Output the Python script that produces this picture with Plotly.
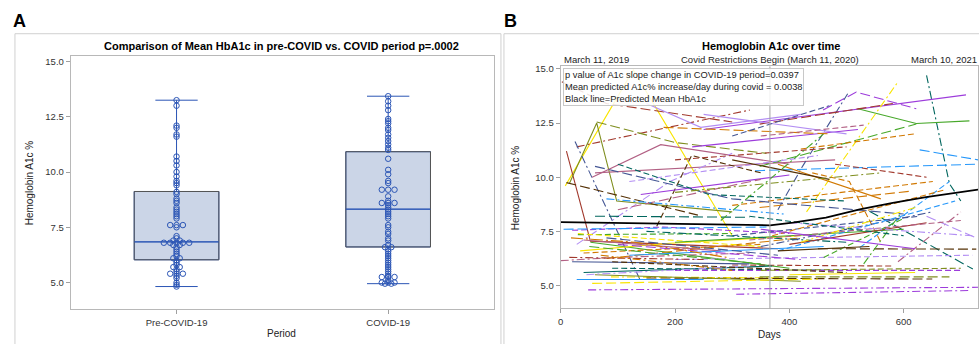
import plotly.graph_objects as go
from collections import Counter

# ---------------- Panel A data ----------------
period_labels = ["Pre-COVID-19", "COVID-19"]
pre_covid_a1c = [13.25, 13.0, 12.1, 12.0, 11.7, 11.6, 10.7, 10.5, 10.3, 10.0, 9.8, 9.6, 9.5, 9.4,
                 9.1, 9.0, 8.8, 8.7, 8.6, 8.4, 8.3, 8.2, 8.1, 8.0, 7.9, 7.6, 7.6, 7.6, 7.5, 7.1,
                 7.0, 6.9, 6.9, 6.8, 6.8, 6.8, 6.8, 6.8, 6.7, 6.7, 6.6, 6.5, 6.4, 6.3, 6.2, 6.1,
                 6.1, 6.0, 5.9, 5.8, 5.7, 5.7, 5.6, 5.5, 5.4, 5.4, 5.4, 5.3, 5.2, 5.0, 4.9, 4.82]
covid_a1c = [13.43, 13.2, 13.0, 12.8, 12.4, 12.3, 12.2, 12.0, 11.9, 11.7, 11.55, 11.4, 11.25,
             11.1, 11.0, 10.6, 10.1, 9.9, 9.6, 9.5, 9.2, 9.2, 9.2, 8.9, 8.7, 8.6, 8.6, 8.6, 8.5,
             8.4, 8.3, 8.2, 8.1, 8.0, 7.9, 7.6, 7.5, 7.3, 7.2, 7.0, 6.9, 6.7, 6.6, 6.6, 6.5, 6.4,
             6.3, 6.2, 6.1, 6.0, 5.9, 5.8, 5.7, 5.6, 5.5, 5.4, 5.3, 5.25, 5.25, 5.25, 5.1, 5.0,
             5.0, 5.0, 4.95, 4.95]
box_q1 = [6.03, 6.61]
box_median = [6.84, 8.32]
box_q3 = [9.12, 10.92]
box_low = [4.82, 4.95]
box_high = [13.25, 13.43]

# ---------------- Panel B data ----------------
date_days = [0, 366, 730]
date_labels = ["March 11, 2019", "Covid Restrictions Begin (March 11, 2020)", "March 10, 2021"]
predicted_days = [0, 100, 200, 300, 366, 406, 464, 523, 581, 639, 730]
predicted_a1c = [7.93, 7.89, 7.85, 7.81, 7.78, 7.9, 8.13, 8.51, 8.82, 9.08, 9.43]

patient_days = [
    [8, 127, 300], [2, 80, 300], [28, 331], [10, 52, 380], [52, 400],
    [63, 200, 360], [15, 63, 98, 300], [25, 140], [55, 175, 400], [60, 480],
    [230, 520], [150, 245, 420], [640, 680, 700], [250, 709], [520, 622, 715],
    [348, 622], [459, 517, 622], [430, 590], [380, 423, 502], [628, 730],
    [340, 730], [348, 581], [540, 721], [450, 727], [48, 730],
    [307, 715], [28, 250], [20, 180, 400], [28, 191, 300], [34, 191, 420],
    [0, 100, 330], [10, 240], [168, 229, 350], [60, 330], [5, 360],
    [30, 300], [40, 350], [80, 420], [88, 400], [90, 500],
    [150, 650], [300, 651], [348, 610], [300, 628], [523, 680],
    [590, 700], [640, 727], [530, 594], [348, 680], [200, 700],
    [300, 580], [200, 720], [440, 505, 560], [140, 400], [120, 450],
    [100, 260, 500], [200, 500], [60, 300, 600], [380, 560], [300, 470],
    [280, 460], [100, 350], [80, 390], [200, 560], [180, 470],
    [250, 500], [300, 470], [350, 530], [20, 330], [15, 250],
    [40, 370], [60, 420], [50, 350], [70, 300], [45, 330],
    [55, 450], [90, 500], [100, 420], [40, 280], [120, 460],
    [30, 350], [80, 380], [200, 600], [150, 500], [350, 650],
    [380, 690], [400, 640], [330, 700], [370, 670], [420, 620],
    [460, 600], [350, 620], [400, 720], [330, 600], [380, 540],
    [350, 700], [400, 620], [420, 620], [480, 640], [18, 130, 290],
]
patient_a1c = [
    [9.6, 14.95, 7.3], [14.4, 13.4, 12.55], [11.4, 13.1], [11.2, 7.05, 6.7], [7.0, 5.8],
    [12.55, 11.6, 11.1], [9.7, 12.5, 8.9, 8.4], [11.65, 5.2], [10.0, 11.5, 10.6], [10.2, 10.8],
    [11.4, 12.2], [13.4, 12.3, 12.9], [14.7, 9.7, 8.9], [12.2, 13.8], [13.16, 12.48, 12.6],
    [10.5, 12.45], [13.1, 13.93, 13.16], [8.4, 14.4], [8.5, 10.5, 13.85], [11.26, 10.8],
    [10.3, 10.6], [12.45, 13.4], [8.43, 5.76], [6.7, 6.68], [4.8, 4.92],
    [4.6, 4.77], [5.28, 5.28], [7.55, 7.7, 7.4], [6.9, 9.8, 11.1], [6.6, 6.95, 7.3],
    [6.15, 6.3, 6.5], [9.75, 8.25], [7.74, 11.0, 10.2], [8.2, 8.15], [7.6, 7.7],
    [7.35, 7.4], [6.5, 6.9], [6.25, 7.2], [5.4, 5.35], [5.8, 5.7],
    [5.35, 5.3], [8.7, 9.8], [8.6, 9.35], [7.3, 8.2], [6.75, 9.8],
    [6.1, 8.4], [8.2, 7.2], [6.0, 8.3], [5.4, 5.4], [5.7, 5.7],
    [5.95, 5.9], [6.2, 6.4], [10.2, 9.8, 7.0], [9.2, 10.1], [9.8, 11.0],
    [10.6, 9.2, 8.9], [10.8, 11.4], [10.5, 9.0, 8.3], [10.6, 9.0], [10.8, 9.9],
    [8.0, 12.0], [8.5, 9.9], [9.0, 8.3], [9.3, 10.2], [12.3, 12.0],
    [12.9, 12.0], [11.9, 13.3], [11.9, 12.4], [6.1, 6.0], [6.3, 6.2],
    [5.6, 5.9], [5.5, 5.2], [6.8, 6.0], [6.4, 5.7], [5.5, 5.9],
    [5.1, 5.3], [6.1, 5.6], [6.9, 6.2], [7.1, 6.6], [6.4, 6.8],
    [7.4, 6.8], [7.2, 6.4], [7.0, 7.6], [7.5, 7.0], [6.8, 8.4],
    [6.6, 8.9], [6.9, 7.9], [7.1, 8.0], [7.3, 9.4], [7.0, 8.6],
    [6.3, 8.1], [7.6, 6.7], [7.9, 7.3], [8.2, 7.3], [6.6, 6.8],
    [5.7, 5.8], [5.5, 5.6], [11.3, 12.0], [10.6, 10.0], [7.2, 7.0, 6.3],
]
patient_style = [
    "ys", "rL", "rD", "rs", "gs", "oL", "os", "bD", "ks", "ks",
    "ps", "vs", "tD", "ps", "gs", "gL", "pL", "yD", "bD", "lL",
    "lL", "rL", "tL", "nL", "pD", "pD", "ls", "pd", "vD", "ys",
    "kD", "nL", "nd", "tL", "lL", "gd", "ad", "aL", "yD", "td",
    "nL", "ad", "aL", "bd", "ld", "kD", "vL", "gD", "oL", "pd",
    "rd", "vd", "ad", "ps", "vd", "td", "rd", "bL", "as", "ns",
    "gD", "kL", "lD", "oD", "aL", "vs", "bd", "kd", "bs", "rD",
    "ts", "os", "gL", "aD", "vD", "yL", "nd", "pL", "ks", "ls",
    "yd", "bL", "gs", "tD", "bD", "ld", "rs", "kd", "ad", "yD",
    "gd", "ps", "vD", "td", "ns", "od", "ys", "ad", "rd", "aX",
]

# ---------------- styles ----------------
palette = {"b": "#445694", "r": "#A23A2E", "t": "#01665E", "n": "#543005", "p": "#9D3CDB",
           "o": "#7F8E1F", "l": "#2597FA", "k": "#B26084", "a": "#D17800", "g": "#47A82A",
           "v": "#B38EF3", "y": "#F9E500"}
dash_map = {"s": "solid", "d": "6px,3px", "L": "10px,4px", "D": "8px,3px,2px,3px",
            "X": "12px,3px,2px,3px"}
W, H = 979, 344
FONT = "Liberation Sans, Arial, sans-serif"
def px(x): return x / W
def py(y): return 1 - y / H

fig = go.Figure()

# ---- Panel A: boxes ----
box_color = "#2B55B5"
box_half = 0.2
for i in range(2):
    fig.add_trace(go.Box(x=[i], q1=[box_q1[i]], median=[box_median[i]], q3=[box_q3[i]],
                         lowerfence=[box_low[i]], upperfence=[box_high[i]],
                         width=box_half * 2, whiskerwidth=0.5, fillcolor="#CBD5E7",
                         line=dict(color=box_color, width=1), boxpoints=False,
                         hoverinfo="skip", showlegend=False, xaxis="x", yaxis="y"))
    fig.add_trace(go.Scatter(x=[i - box_half, i + box_half, i + box_half, i - box_half, i - box_half],
                             y=[box_q1[i], box_q1[i], box_q3[i], box_q3[i], box_q1[i]],
                             mode="lines", line=dict(color="#555555", width=1),
                             showlegend=False, hoverinfo="skip", xaxis="x", yaxis="y"))
    fig.add_trace(go.Scatter(x=[i - box_half, i + box_half], y=[box_median[i]] * 2,
                             mode="lines", line=dict(color=box_color, width=1),
                             showlegend=False, hoverinfo="skip", xaxis="x", yaxis="y"))

def jittered(vals, center):
    counts = Counter(vals)
    seen = Counter()
    xs = []
    for v in vals:
        n = counts[v]
        k = seen[v]
        seen[v] += 1
        xs.append(center + (k - (n - 1) / 2) * 0.03)
    return xs

for i, vals in enumerate([pre_covid_a1c, covid_a1c]):
    fig.add_trace(go.Scatter(x=jittered(vals, i), y=vals, mode="markers",
                             marker=dict(symbol="circle-open", size=5.5, color="#2B55B5",
                                         line=dict(width=1, color="#2B55B5")),
                             showlegend=False, xaxis="x", yaxis="y"))

# ---- Panel B: spaghetti lines ----
for d, v, s in zip(patient_days, patient_a1c, patient_style):
    fig.add_trace(go.Scatter(x=d, y=v, mode="lines",
                             line=dict(color=palette[s[0]], dash=dash_map[s[1]], width=1.1),
                             showlegend=False, xaxis="x2", yaxis="y2"))
fig.add_trace(go.Scatter(x=predicted_days, y=predicted_a1c, mode="lines",
                         line=dict(color="black", width=1.8), showlegend=False,
                         xaxis="x2", yaxis="y2"))

axis_common = dict(showgrid=False, zeroline=False, showline=True, mirror=True,
                   linecolor="#B8B8B8", linewidth=1, ticks="outside", ticklen=4,
                   tickcolor="#A0A0A0", tickfont=dict(family=FONT, size=9.5, color="#333333"))

fig.update_layout(
    width=W, height=H, margin=dict(l=0, r=0, t=0, b=0),
    paper_bgcolor="white", plot_bgcolor="white", showlegend=False,
    xaxis=dict(domain=[px(68), px(493)], range=[-0.5, 1.5], tickvals=[0, 1],
               ticktext=period_labels, **axis_common),
    yaxis=dict(domain=[py(309), py(53)], range=[3.79, 15.27],
               tickvals=[5, 7.5, 10, 12.5, 15], tickformat=".1f", **axis_common),
    xaxis2=dict(domain=[px(560), px(979)], range=[0, 730], tickvals=[0, 200, 400, 600],
                anchor="y2", **axis_common),
    yaxis2=dict(domain=[py(308), py(64)], range=[3.95, 15.11], anchor="x2",
                tickvals=[5, 7.5, 10, 12.5, 15], tickformat=".1f", **axis_common),
)

# Panel frames
fig.add_shape(type="rect", xref="paper", yref="paper", x0=px(12), x1=px(500), y0=-0.05, y1=py(31),
              line=dict(color="#D0D0D0", width=1))
fig.add_shape(type="rect", xref="paper", yref="paper", x0=px(503), x1=1.05, y0=-0.05, y1=py(31),
              line=dict(color="#D0D0D0", width=1))
# Covid start reference line
fig.add_shape(type="line", xref="x2", yref="paper", x0=date_days[1], x1=date_days[1],
              y0=py(308), y1=py(64), line=dict(color="#A0A0A0", width=1), layer="above")

ann = []
def text(x, y, t, size=10, bold=False, xanchor="center", yanchor="middle", angle=0,
         color="#222222", xref="paper", **kw):
    ann.append(dict(x=x, y=y, xref=xref, yref="paper", text=f"<b>{t}</b>" if bold else t,
                    showarrow=False, xanchor=xanchor, yanchor=yanchor, textangle=angle,
                    font=dict(family=FONT, size=size, color=color), **kw))

text(px(8), py(18), "A", size=18, bold=True, xanchor="left", color="black")
text(px(501), py(18), "B", size=18, bold=True, xanchor="left", color="black")
text(px(280), py(43), "Comparison of Mean HbA1c in pre-COVID vs. COVID period p=.0002",
     size=11, bold=True, color="black")
text(px(27), py(181), "Hemoglobin A1c %", size=10, angle=-90)
text(px(280), py(333), "Period", size=10)
text(px(771), py(43), "Hemoglobin A1c over time", size=11, bold=True, color="black")
text(px(514), py(186), "Hemoglobin A1c %", size=10, angle=-90)
text(px(770), py(334), "Days", size=10)
text(date_days[0], py(57), date_labels[0], size=9.5, xanchor="left", xref="x2", xshift=1)
text(date_days[1], py(57), date_labels[1], size=9.5, xref="x2")
text(date_days[2], py(57), date_labels[2], size=9.5, xanchor="right", xref="x2", xshift=1)
ann.append(dict(x=px(562), y=py(66), xref="paper", yref="paper", showarrow=False,
                xanchor="left", yanchor="top", align="left",
                text="p value of A1c slope change in COVID-19 period=0.0397<br>"
                     "Mean predicted A1c% increase/day during covid = 0.0038<br>"
                     "Black line=Predicted Mean HbA1c",
                font=dict(family=FONT, size=9.3, color="#222222"),
                bgcolor="rgba(255,255,255,0.85)", bordercolor="#C8C8C8", borderwidth=1,
                borderpad=1))
fig.update_layout(annotations=ann)

fig.write_html("out.html", config={"displayModeBar": False},
               post_script="document.body.style.margin='0';document.body.style.overflow='hidden';")
